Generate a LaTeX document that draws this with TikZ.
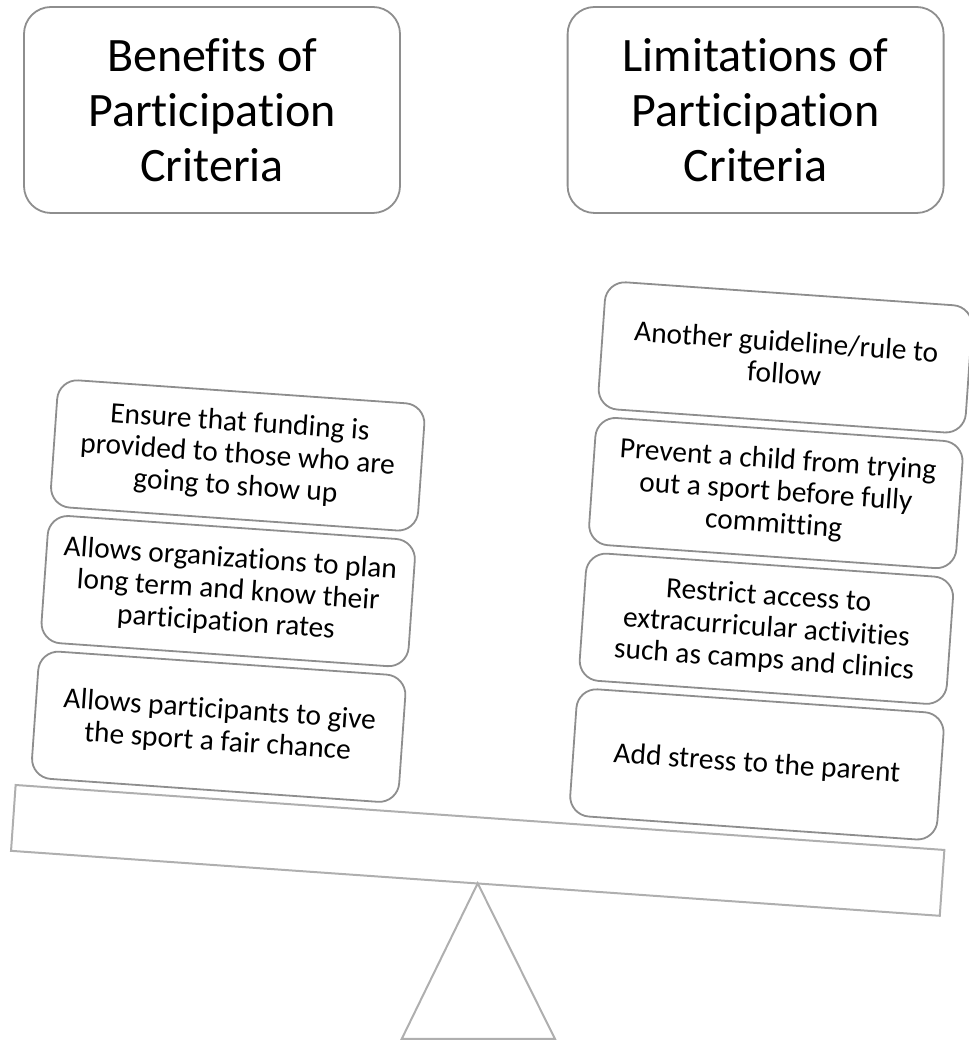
\documentclass[tikz,border=0pt]{standalone}
\usepackage{fontspec}
\setmainfont{Carlito}[RawFeature={-liga;-calt;-clig;-dlig}]
\definecolor{boxline}{HTML}{8E8E8E}
\definecolor{beamline}{HTML}{AFAFAF}
% zero kern keeps letter pairs such as t-i and f-i apart
\newcommand\nolig{\kern0pt{}}
\begin{document}
\begin{tikzpicture}[x=1pt,y=1pt,
  headbox/.style={draw=boxline, line width=1.8pt, rounded corners=27pt,
    minimum width=376pt, minimum height=206pt, align=center, inner sep=0pt,
    font=\fontsize{48}{55}\selectfont},
  itembox/.style={draw=boxline, fill=white, line width=1.8pt, rounded corners=20pt,
    minimum width=368pt, minimum height=127.5pt, align=center, inner sep=0pt,
    font=\fontsize{29.4}{32}\selectfont},
  beambar/.style={draw=beamline, line width=2pt, minimum width=931pt,
    minimum height=66pt, inner sep=0pt},
  fulcrum/.style={draw=beamline, line width=2pt, line join=miter}]
\useasboundingbox (0,0) rectangle (968,1040);

% headings
\node[headbox] (benefits) at (212,930) {Benef\nolig its of\\Participat\nolig ion\\Criteria};
\node[headbox] (limits) at (755.6,930) {Limitat\nolig ions of\\Participat\nolig ion\\Criteria};

% tilted beam with the two stacks of arguments
\begin{scope}[shift={(477.7,189.6)}, rotate=-4, transform shape]
  \node[beambar] (beam) at (0,0) {};
  \node[itembox] (b3) at (-267,105.25) {Allows participants to give\\the sport a fair chance};
  \node[itembox] (b2) at (-267,241.25) {Allows organizations to plan\\long term and know their\\participat\nolig ion rates};
  \node[itembox] (b1) at (-267,377.25) {Ensure that funding is\\provided to those who are\\going to show up};
  \node[itembox] (l4) at (272.5,105.25) {Add stress to the parent};
  \node[itembox] (l3) at (272.5,241.25) {Restrict access to\\extracurricular activ\nolig it\nolig ies\\such as camps and clinics};
  \node[itembox] (l2) at (272.5,377.25) {Prevent a child from trying\\out a sport before fully\\commit\nolig t\nolig ing};
  \node[itembox] (l1) at (272.5,513.25) {Another guideline/rule to\\follow};
\end{scope}

% fulcrum
\coordinate (apex) at (477.7,156.7);
\draw[fulcrum] (apex) -- (555,1) -- (401.7,1) -- cycle;
\end{tikzpicture}
\end{document}
